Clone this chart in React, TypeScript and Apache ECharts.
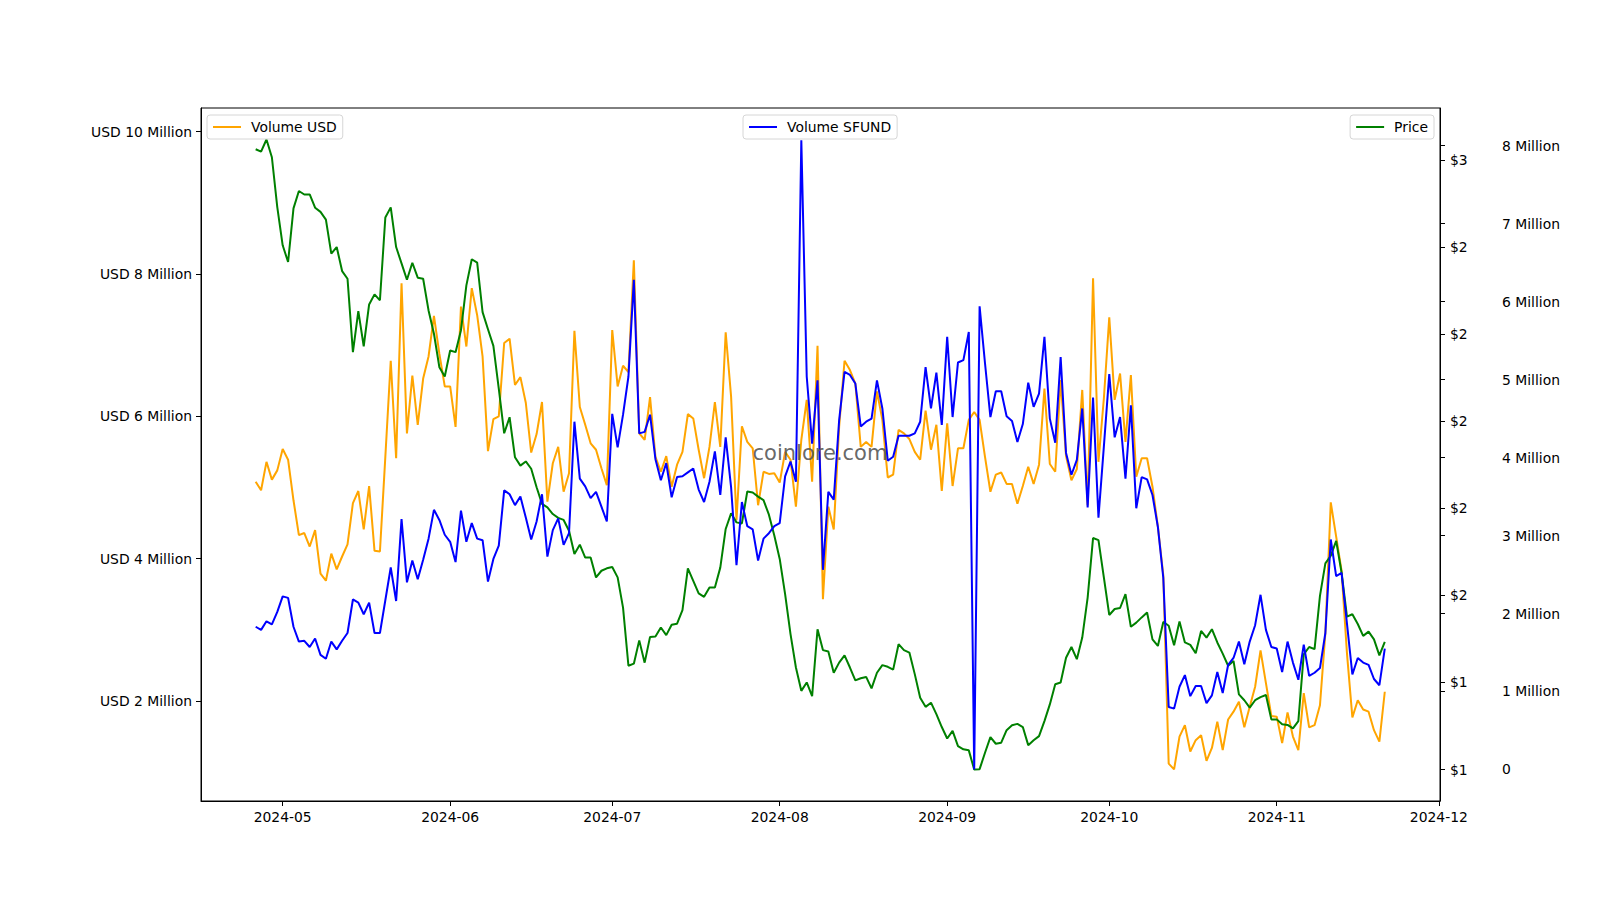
import React, { useEffect, useRef } from "react";
import * as echarts from "echarts";

const DAY = 86400000;
const startDate = Date.UTC(2024, 3, 26);

// Volume USD (millions), daily from 2024-04-26
const volumeUsd = [
  5.08, 4.96, 5.36, 5.11, 5.24, 5.54, 5.39, 4.82, 4.33, 4.36,
  4.17, 4.40, 3.79, 3.69, 4.07, 3.85, 4.03, 4.20, 4.78, 4.95,
  4.41, 5.02, 4.11, 4.10, 5.43, 6.78, 5.41, 7.87, 5.76, 6.57,
  5.88, 6.53, 6.84, 7.41, 6.88, 6.42, 6.42, 5.85, 7.54, 6.98,
  7.80, 7.42, 6.84, 5.51, 5.96, 6.00, 7.03, 7.09, 6.44, 6.55,
  6.19, 5.49, 5.75, 6.20, 4.80, 5.34, 5.57, 4.94, 5.20, 7.20,
  6.13, 5.88, 5.62, 5.53, 5.27, 5.03, 7.21, 6.42, 6.71, 6.62,
  8.19, 5.76, 5.67, 6.27, 5.43, 5.22, 5.44, 5.01, 5.32, 5.50,
  6.03, 5.97, 5.53, 5.13, 5.57, 6.20, 5.57, 7.18, 6.28, 4.54,
  5.86, 5.64, 5.55, 4.75, 5.22, 5.19, 5.20, 5.07, 5.50, 5.39,
  4.73, 5.67, 6.23, 5.08, 6.99, 3.43, 4.73, 4.41, 5.85, 6.78,
  6.65, 6.46, 5.57, 5.64, 5.57, 6.35, 5.95, 5.14, 5.18, 5.81,
  5.76, 5.68, 5.50, 5.39, 6.08, 5.53, 5.88, 4.95, 5.90, 5.02,
  5.55, 5.55, 5.95, 6.06, 5.95, 5.43, 4.94, 5.18, 5.21, 5.05,
  5.05, 4.77, 5.02, 5.29, 5.05, 5.32, 6.39, 5.33, 5.22, 6.51,
  5.44, 5.10, 5.26, 6.37, 4.75, 7.94, 5.36, 6.25, 7.39, 6.23,
  6.60, 5.64, 6.58, 5.15, 5.41, 5.41, 5.01, 4.45, 3.77, 1.12,
  1.04, 1.50, 1.66, 1.29, 1.45, 1.52, 1.16, 1.34, 1.71, 1.31,
  1.74, 1.85, 1.99, 1.63, 1.92, 2.20, 2.71, 2.25, 1.79, 1.78,
  1.41, 1.84, 1.50, 1.31, 2.11, 1.63, 1.66, 1.94, 2.95, 4.79,
  4.31, 3.83, 2.67, 1.77, 2.01, 1.88, 1.85, 1.59, 1.43, 2.13,
];

// Volume SFUND (millions)
const volumeSfund = [
  1.83, 1.79, 1.90, 1.86, 2.02, 2.22, 2.20, 1.83, 1.64, 1.65,
  1.57, 1.68, 1.47, 1.42, 1.64, 1.54, 1.65, 1.75, 2.18, 2.14,
  1.99, 2.14, 1.75, 1.75, 2.17, 2.59, 2.16, 3.21, 2.40, 2.68,
  2.44, 2.69, 2.96, 3.33, 3.20, 3.01, 2.92, 2.66, 3.32, 2.92,
  3.16, 2.96, 2.94, 2.41, 2.70, 2.87, 3.58, 3.53, 3.39, 3.50,
  3.23, 2.95, 3.18, 3.53, 2.73, 3.07, 3.22, 2.88, 3.03, 4.46,
  3.73, 3.63, 3.48, 3.56, 3.37, 3.18, 4.56, 4.13, 4.55, 5.04,
  6.28, 4.31, 4.33, 4.55, 3.98, 3.71, 3.93, 3.49, 3.75, 3.76,
  3.81, 3.86, 3.59, 3.43, 3.69, 4.08, 3.52, 4.26, 3.62, 2.62,
  3.43, 3.12, 3.08, 2.68, 2.96, 3.03, 3.12, 3.16, 3.76, 3.95,
  3.69, 8.07, 5.04, 4.18, 4.99, 2.56, 3.56, 3.46, 4.48, 5.10,
  5.06, 4.95, 4.40, 4.46, 4.50, 4.99, 4.63, 3.96, 4.01, 4.28,
  4.28, 4.28, 4.31, 4.46, 5.16, 4.63, 5.09, 4.42, 5.55, 4.52,
  5.22, 5.25, 5.61, 0.00, 5.94, 5.21, 4.52, 4.85, 4.85, 4.53,
  4.47, 4.20, 4.43, 4.96, 4.65, 4.82, 5.55, 4.50, 4.19, 5.29,
  4.06, 3.78, 3.97, 4.63, 3.36, 4.77, 3.23, 4.14, 5.07, 4.26,
  4.52, 3.73, 4.67, 3.35, 3.75, 3.72, 3.52, 3.11, 2.46, 0.80,
  0.78, 1.06, 1.21, 0.94, 1.07, 1.07, 0.85, 0.95, 1.25, 0.98,
  1.34, 1.43, 1.64, 1.35, 1.64, 1.85, 2.24, 1.79, 1.57, 1.55,
  1.25, 1.64, 1.37, 1.15, 1.60, 1.20, 1.24, 1.30, 1.75, 2.95,
  2.48, 2.52, 1.87, 1.22, 1.43, 1.37, 1.34, 1.16, 1.08, 1.55,
];

// Price (USD)
const price = [
  2.782, 2.775, 2.810, 2.759, 2.616, 2.506, 2.458, 2.612, 2.662, 2.652,
  2.652, 2.614, 2.602, 2.580, 2.482, 2.501, 2.432, 2.410, 2.199, 2.317,
  2.216, 2.336, 2.365, 2.348, 2.586, 2.615, 2.501, 2.454, 2.407, 2.456,
  2.413, 2.410, 2.319, 2.252, 2.156, 2.129, 2.204, 2.199, 2.262, 2.391,
  2.466, 2.456, 2.314, 2.265, 2.217, 2.094, 1.966, 2.012, 1.897, 1.873,
  1.885, 1.864, 1.811, 1.763, 1.753, 1.734, 1.723, 1.717, 1.686, 1.619,
  1.646, 1.609, 1.609, 1.552, 1.571, 1.578, 1.582, 1.552, 1.465, 1.298,
  1.304, 1.371, 1.307, 1.381, 1.382, 1.408, 1.386, 1.416, 1.419, 1.458,
  1.578, 1.542, 1.506, 1.496, 1.523, 1.523, 1.580, 1.691, 1.736, 1.710,
  1.707, 1.799, 1.796, 1.784, 1.774, 1.732, 1.672, 1.605, 1.504, 1.389,
  1.293, 1.226, 1.250, 1.211, 1.403, 1.343, 1.339, 1.278, 1.307, 1.328,
  1.293, 1.256, 1.262, 1.266, 1.233, 1.278, 1.300, 1.295, 1.287, 1.360,
  1.343, 1.336, 1.274, 1.206, 1.180, 1.192, 1.159, 1.122, 1.089, 1.111,
  1.067, 1.058, 1.055, 1.000, 1.001, 1.048, 1.093, 1.074, 1.077, 1.113,
  1.127, 1.131, 1.122, 1.070, 1.084, 1.096, 1.139, 1.187, 1.245, 1.250,
  1.321, 1.352, 1.317, 1.379, 1.494, 1.665, 1.659, 1.552, 1.444, 1.461,
  1.464, 1.504, 1.410, 1.422, 1.437, 1.451, 1.374, 1.355, 1.424, 1.413,
  1.357, 1.425, 1.365, 1.358, 1.334, 1.398, 1.379, 1.403, 1.365, 1.333,
  1.298, 1.312, 1.216, 1.199, 1.178, 1.199, 1.208, 1.214, 1.144, 1.144,
  1.130, 1.128, 1.118, 1.139, 1.331, 1.352, 1.346, 1.499, 1.592, 1.614,
  1.657, 1.566, 1.439, 1.446, 1.418, 1.384, 1.396, 1.374, 1.328, 1.367,
];

const dates = volumeUsd.map((_, i) => startDate + i * DAY);

const monthTicks = [
  Date.UTC(2024, 4, 1), Date.UTC(2024, 5, 1), Date.UTC(2024, 6, 1), Date.UTC(2024, 7, 1),
  Date.UTC(2024, 8, 1), Date.UTC(2024, 9, 1), Date.UTC(2024, 10, 1), Date.UTC(2024, 11, 1),
];
const usdTicks = [2, 4, 6, 8, 10];
const priceTicks = [1, 1.25, 1.5, 1.75, 2, 2.25, 2.5, 2.75];
const priceTickLabels = ["$1", "$1", "$2", "$2", "$2", "$2", "$2", "$3"];
const sfundTicks = [0, 1, 2, 3, 4, 5, 6, 7, 8];

const FONT = "DejaVu Sans";
const FS = 13.9;

export default function App() {
  const ref = useRef<HTMLDivElement>(null);
  useEffect(() => {
    if (!ref.current) return;
    const chart = echarts.init(ref.current, undefined, { renderer: "svg" });
    const tickStyle = { color: "#000", width: 1 };
    const labelBase = { color: "#000", fontSize: FS, fontFamily: FONT };
    const legendBase = {
      orient: "horizontal",
      top: 115,
      padding: [5, 6, 5, 6],
      icon: "rect",
      itemWidth: 28,
      itemHeight: 2,
      borderColor: "#d6d6d6",
      borderWidth: 1,
      borderRadius: 3,
      backgroundColor: "rgba(255,255,255,0.8)",
      selectedMode: false,
      textStyle: { color: "#000", fontSize: FS, fontFamily: FONT, padding: [0, 0, 0, 5] },
    };
    const option: any = {
      animation: false,
      backgroundColor: "#fff",
      grid: {
        left: 201, top: 108, right: 160, bottom: 99,
        show: true, borderColor: "#000", borderWidth: 1, backgroundColor: "transparent",
        containLabel: false,
      },
      legend: [
        { ...legendBase, left: 207, data: ["Volume USD"] },
        { ...legendBase, left: 743, data: ["Volume SFUND"] },
        { ...legendBase, right: 166, data: ["Price"] },
      ],
      xAxis: {
        type: "value",
        min: startDate - 10.12 * DAY,
        max: startDate + 219.22 * DAY,
        axisLine: { show: true, onZero: false, lineStyle: tickStyle },
        axisTick: { show: true, length: 5, lineStyle: tickStyle, customValues: monthTicks },
        axisLabel: {
          ...labelBase,
          margin: 9,
          customValues: monthTicks,
          formatter: (v: number) => {
            const d = new Date(v);
            return `${d.getUTCFullYear()}-${String(d.getUTCMonth() + 1).padStart(2, "0")}`;
          },
        },
        splitLine: { show: false },
      },
      yAxis: [
        {
          type: "value",
          position: "left",
          min: 0.595,
          max: 10.331,
          axisLine: { show: true, lineStyle: tickStyle },
          axisTick: { show: true, length: 5, lineStyle: tickStyle, customValues: usdTicks },
          axisLabel: {
            ...labelBase,
            margin: 9,
            customValues: usdTicks,
            formatter: (v: number) => `USD ${v} Million`,
          },
          splitLine: { show: false },
        },
        {
          type: "value",
          position: "right",
          min: 0.9095,
          max: 2.9005,
          axisLine: { show: true, lineStyle: tickStyle },
          axisTick: { show: true, length: 5, lineStyle: tickStyle, customValues: priceTicks },
          axisLabel: {
            ...labelBase,
            margin: 10,
            customValues: priceTicks,
            formatter: (v: number) => {
              let best = 0;
              for (let i = 0; i < priceTicks.length; i++) {
                if (Math.abs(priceTicks[i] - v) < Math.abs(priceTicks[best] - v)) best = i;
              }
              return priceTickLabels[best];
            },
          },
          splitLine: { show: false },
        },
        {
          type: "value",
          position: "right",
          offset: 0,
          min: -0.405,
          max: 8.484,
          axisLine: { show: false },
          axisTick: { show: true, length: 5, lineStyle: tickStyle, customValues: sfundTicks },
          axisLabel: {
            ...labelBase,
            margin: 62,
            customValues: sfundTicks,
            formatter: (v: number) => (v === 0 ? "0" : `${v} Million`),
          },
          splitLine: { show: false },
        },
      ],
      graphic: [
        {
          type: "text",
          x: 820,
          y: 453,
          z: 100,
          silent: true,
          style: {
            text: "coinlore.com",
            fontSize: 21,
            fontFamily: FONT,
            fill: "#555555",
            opacity: 0.9,
            textAlign: "center",
            textVerticalAlign: "middle",
            align: "center",
            verticalAlign: "middle",
          },
        },
      ],
      series: [
        {
          name: "Volume USD",
          type: "line",
          yAxisIndex: 0,
          symbol: "none",
          data: dates.map((t, i) => [t, volumeUsd[i]]),
          lineStyle: { color: "#FFA500", width: 2 },
          itemStyle: { color: "#FFA500" },
          z: 2,
        },
        {
          name: "Price",
          type: "line",
          yAxisIndex: 1,
          symbol: "none",
          data: dates.map((t, i) => [t, price[i]]),
          lineStyle: { color: "#008000", width: 2 },
          itemStyle: { color: "#008000" },
          z: 3,
        },
        {
          name: "Volume SFUND",
          type: "line",
          yAxisIndex: 2,
          symbol: "none",
          data: dates.map((t, i) => [t, volumeSfund[i]]),
          lineStyle: { color: "#0000FF", width: 2 },
          itemStyle: { color: "#0000FF" },
          z: 4,
        },
      ],
    };
    chart.setOption(option);
    return () => chart.dispose();
  }, []);
  return (
    <div
      ref={ref}
      style={{ position: "absolute", left: 0, top: 0, width: 1600, height: 900, background: "#fff" }}
    />
  );
}
